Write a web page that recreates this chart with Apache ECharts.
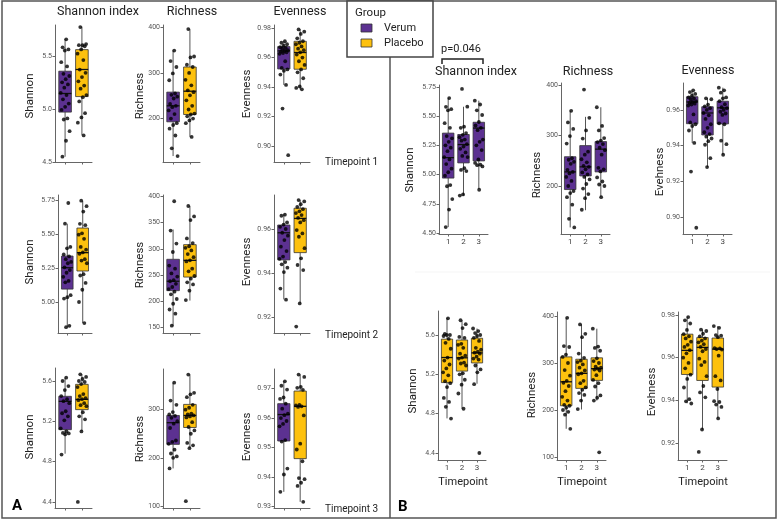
<!DOCTYPE html>
<html><head><meta charset="utf-8">
<script src="https://cdn.jsdelivr.net/npm/echarts@6/dist/echarts.min.js"></script>
<style>html,body{margin:0;padding:0;background:#fff}#c{width:779px;height:521px}</style>
</head><body><div id="c"></div>
<script>
// ---------- DATA ----------
const timepointLabels = ['1', '2', '3'];
const groupNames = ['Verum', 'Placebo'];
const metricTitles = ['Shannon index', 'Richness', 'Evenness'];

// box stats per timepoint: [whisker low, Q1, median, Q3, whisker high]
const shannonVerumBox   = [[4.55, 4.97, 5.145, 5.355, 5.655], [4.82, 5.10, 5.257, 5.343, 5.581], [4.879, 5.117, 5.398, 5.448, 5.633]];
const shannonPlaceboBox = [[4.752, 5.116, 5.371, 5.558, 5.774], [4.85, 5.233, 5.368, 5.549, 5.748], [5.104, 5.316, 5.418, 5.567, 5.666]];
const richnessVerumBox   = [[118, 193, 228, 258, 349], [152, 220, 238, 280, 337], [178, 228, 273, 288, 356]];
const richnessPlaceboBox = [[160, 209, 260, 313, 396], [201, 246, 278, 308, 382], [220, 263, 288, 311, 373]];
const evennessVerumBox   = [[0.9415, 0.9523, 0.9645, 0.9674, 0.9708], [0.9281, 0.946, 0.9583, 0.9618, 0.9666], [0.9349, 0.9522, 0.9612, 0.9649, 0.9725]];
const evennessPlaceboBox = [[0.9386, 0.9521, 0.9634, 0.9710, 0.9792], [0.9263, 0.9493, 0.9648, 0.9694, 0.9731], [0.9315, 0.9462, 0.964, 0.9692, 0.9748]];

// individual sample values per timepoint
const shannonVerumPts = [
  [5.655, 5.58, 5.56, 5.55, 5.44, 5.40, 5.33, 5.31, 5.28, 5.25, 5.23, 5.20, 5.15, 5.13, 5.09, 5.05, 5.02, 4.99, 4.91, 4.90, 4.79, 4.70, 4.55],
  [5.733, 5.581, 5.41, 5.40, 5.355, 5.34, 5.32, 5.30, 5.29, 5.26, 5.24, 5.22, 5.19, 5.16, 5.15, 5.055, 5.04, 5.03, 4.83, 4.82],
  [5.633, 5.60, 5.55, 5.51, 5.45, 5.42, 5.40, 5.38, 5.30, 5.28, 5.25, 5.21, 5.13, 5.10, 5.085, 5.08, 5.07, 4.87]
];
const shannonPlaceboPts = [
  [5.77, 5.61, 5.60, 5.60, 5.59, 5.56, 5.52, 5.46, 5.37, 5.34, 5.30, 5.26, 5.22, 5.19, 5.13, 5.11, 5.07, 4.96, 4.92, 4.87, 4.75],
  [5.75, 5.71, 5.67, 5.58, 5.57, 5.51, 5.50, 5.47, 5.41, 5.39, 5.37, 5.36, 5.32, 5.31, 5.29, 5.21, 5.20, 5.145, 5.095, 5.005, 4.85],
  [5.666, 5.64, 5.62, 5.60, 5.59, 5.57, 5.54, 5.47, 5.45, 5.43, 5.42, 5.41, 5.38, 5.36, 5.35, 5.29, 5.25, 5.22, 5.10, 4.40]
];
const richnessVerumPts = [
  [349, 326, 313, 299, 284, 255, 252, 248, 244, 232, 228, 225, 218, 210, 200, 190, 186, 178, 163, 135, 118],
  [391, 335, 310, 294, 268, 262, 253, 247, 240, 238, 233, 227, 223, 218, 213, 204, 195, 184, 176, 153],
  [356, 319, 310, 295, 290, 287, 283, 276, 271, 262, 236, 233, 229, 217, 209, 203, 200, 178]
];
const richnessPlaceboPts = [
  [396, 336, 334, 318, 313, 300, 285, 273, 262, 258, 251, 240, 228, 220, 211, 209, 205, 200, 196, 190, 160],
  [382, 362, 355, 320, 311, 305, 302, 297, 290, 284, 278, 276, 262, 257, 248, 243, 236, 232, 220, 202],
  [373, 335, 332, 326, 310, 304, 300, 292, 290, 288, 286, 284, 274, 264, 257, 250, 231, 226, 220, 110]
];
const evennessVerumPts = [
  [0.9710, 0.9700, 0.9690, 0.9680, 0.9670, 0.9665, 0.9660, 0.9650, 0.9645, 0.9640, 0.9635, 0.9630, 0.9625, 0.9575, 0.9530, 0.9520, 0.9510, 0.9485, 0.9415, 0.9255, 0.8940],
  [0.9665, 0.9660, 0.9630, 0.9620, 0.9610, 0.9600, 0.9583, 0.9570, 0.9550, 0.9520, 0.9500, 0.9475, 0.9465, 0.9450, 0.9440, 0.9425, 0.9405, 0.9330, 0.9280],
  [0.9725, 0.9710, 0.9697, 0.9670, 0.9665, 0.9649, 0.9632, 0.9615, 0.9610, 0.9600, 0.9590, 0.9580, 0.9572, 0.9525, 0.9520, 0.9428, 0.9408, 0.9349]
];
const evennessPlaceboPts = [
  [0.9790, 0.9775, 0.9760, 0.9730, 0.9710, 0.9700, 0.9690, 0.9675, 0.9660, 0.9650, 0.9635, 0.9620, 0.9600, 0.9575, 0.9550, 0.9520, 0.9500, 0.9460, 0.9405, 0.9395, 0.9385],
  [0.9731, 0.9725, 0.9712, 0.9700, 0.9690, 0.9680, 0.9672, 0.9663, 0.9650, 0.9640, 0.9630, 0.9595, 0.9580, 0.9565, 0.9513, 0.9467, 0.9437, 0.9414, 0.9263, 0.9158],
  [0.9748, 0.9740, 0.9706, 0.9703, 0.9696, 0.9645, 0.9643, 0.9640, 0.9638, 0.9609, 0.9513, 0.9493, 0.9453, 0.9396, 0.9392, 0.9380, 0.9369, 0.9315]
];

// tick values
const ticksShannonHalf = [4.5, 5.0, 5.5];
const ticksShannonQuarterA = [5.00, 5.25, 5.50, 5.75];
const ticksShannonQuarterB = [4.50, 4.75, 5.00, 5.25, 5.50, 5.75];
const ticksShannonPoint4 = [4.4, 4.8, 5.2, 5.6];
const ticksRich100 = [200, 300, 400];
const ticksRich100Full = [100, 200, 300, 400];
const ticksRich100Low = [100, 200, 300];
const ticksRich50 = [150, 200, 250, 300, 350, 400];
const ticksEven02A = [0.90, 0.92, 0.94, 0.96, 0.98];
const ticksEven02B = [0.92, 0.94, 0.96];
const ticksEven01 = [0.93, 0.94, 0.95, 0.96, 0.97];
const ticksEven02C = [0.90, 0.92, 0.94, 0.96];
const ticksEven02D = [0.92, 0.94, 0.96, 0.98];

// ---------- STYLE ----------
const PURPLE = '#5c3191';
const GOLD = '#fdc10e';
const FONT = 'Roboto, "Noto Sans", "DejaVu Sans", sans-serif';
const BOX_W = 0.75;

function jit(k, s) {
  const f = ((k + 1 + s * 3) * 0.6180339887) % 1;
  return (f - 0.5) * 0.56;
}

function renderBox(params, api) {
  const x = api.value(0);
  const lo = api.coord([x, api.value(1)]);
  const q1 = api.coord([x, api.value(2)]);
  const md = api.coord([x, api.value(3)]);
  const q3 = api.coord([x, api.value(4)]);
  const hi = api.coord([x, api.value(5)]);
  const w = api.size([BOX_W, 0])[0];
  const col = api.visual('color');
  return {
    type: 'group',
    children: [
      { type: 'line', shape: { x1: lo[0], y1: lo[1], x2: q1[0], y2: q1[1] }, style: { stroke: '#555', lineWidth: 1 } },
      { type: 'line', shape: { x1: q3[0], y1: q3[1], x2: hi[0], y2: hi[1] }, style: { stroke: '#555', lineWidth: 1 } },
      { type: 'rect', shape: { x: q3[0] - w / 2, y: q3[1], width: w, height: q1[1] - q3[1] }, style: { fill: col, stroke: '#333', lineWidth: 0.8 } },
      { type: 'line', shape: { x1: md[0] - w / 2, y1: md[1], x2: md[0] + w / 2, y2: md[1] }, style: { stroke: '#111', lineWidth: 1.3 } }
    ]
  };
}

const grid = [], xAxis = [], yAxis = [], series = [];

function addPanel(p) {
  const gi = grid.length;
  const idx = [];
  for (let i = 0; i < p.cats; i++) idx.push(i);
  grid.push({ left: p.left, top: p.top, width: p.width, height: p.height });
  xAxis.push({
    gridIndex: gi, type: 'value', min: -0.6, max: p.cats - 1 + 0.6,
    axisLine: { show: true, onZero: false, lineStyle: { color: '#666', width: 1 } },
    axisTick: { show: true, customValues: idx, length: 2.5, lineStyle: { color: '#666' } },
    axisLabel: { show: !!p.xLabels, customValues: idx, formatter: v => p.xLabels ? p.xLabels[Math.round(v)] : '', fontSize: 8, color: '#444', margin: 4, fontFamily: FONT },
    splitLine: { show: false }
  });
  yAxis.push({
    gridIndex: gi, type: 'value', min: p.min, max: p.max,
    axisLine: { show: true, onZero: false, lineStyle: { color: '#666', width: 1 } },
    axisTick: { show: true, customValues: p.ticks, length: 2.5, lineStyle: { color: '#666' } },
    axisLabel: { customValues: p.ticks, formatter: v => Number(v).toFixed(p.dec), fontSize: 7, color: '#555', margin: 3, fontFamily: FONT },
    splitLine: { show: false }
  });
  p.items.forEach((it, n) => {
    series.push({
      type: 'custom', xAxisIndex: gi, yAxisIndex: gi, renderItem: renderBox, silent: true, z: 2,
      itemStyle: { color: it.color }, encode: { x: 0, y: [1, 2, 3, 4, 5] },
      data: [[it.x].concat(it.box)]
    });
    series.push({
      type: 'scatter', xAxisIndex: gi, yAxisIndex: gi, silent: true, z: 3, symbolSize: 3.8,
      itemStyle: { color: '#000' },
      data: it.pts.map((v, k) => [it.x + jit(k, n + it.x), v])
    });
  });
}

// ---------- PANEL A ----------
const boxes = [
  [shannonVerumBox, shannonPlaceboBox, shannonVerumPts, shannonPlaceboPts],
  [richnessVerumBox, richnessPlaceboBox, richnessVerumPts, richnessPlaceboPts],
  [evennessVerumBox, evennessPlaceboBox, evennessVerumPts, evennessPlaceboPts]
];
const layoutA = [
  // timepoint 1
  [{ left: 55, top: 25, width: 37, height: 137, min: 4.5, max: 5.79, ticks: ticksShannonHalf, dec: 1 },
   { left: 163, top: 25, width: 37, height: 137, min: 105, max: 405, ticks: ticksRich100, dec: 0 },
   { left: 274, top: 25, width: 36, height: 137, min: 0.8894, max: 0.982, ticks: ticksEven02A, dec: 2 }],
  // timepoint 2
  [{ left: 58, top: 195, width: 34, height: 138, min: 4.777, max: 5.792, ticks: ticksShannonQuarterA, dec: 2 },
   { left: 163, top: 195, width: 37, height: 138, min: 139, max: 403, ticks: ticksRich50, dec: 0 },
   { left: 274, top: 195, width: 36, height: 138, min: 0.9129, max: 0.9754, ticks: ticksEven02B, dec: 2 }],
  // timepoint 3
  [{ left: 55, top: 368, width: 37, height: 140, min: 4.34, max: 5.729, ticks: ticksShannonPoint4, dec: 1 },
   { left: 163, top: 369, width: 37, height: 139, min: 95.8, max: 384.5, ticks: ticksRich100Low, dec: 0 },
   { left: 274, top: 369, width: 36, height: 139, min: 0.9294, max: 0.9767, ticks: ticksEven01, dec: 2 }]
];
layoutA.forEach((row, t) => {
  row.forEach((L, m) => {
    const b = boxes[m];
    addPanel(Object.assign({}, L, {
      cats: 2,
      items: [
        { x: 0, color: PURPLE, box: b[0][t], pts: b[2][t] },
        { x: 1, color: GOLD, box: b[1][t], pts: b[3][t] }
      ]
    }));
  });
});

// ---------- PANEL B ----------
const layoutB = [
  // Verum
  [{ left: 439, top: 85, width: 49, height: 149, min: 4.491, max: 5.767, ticks: ticksShannonQuarterB, dec: 2 },
   { left: 561, top: 83, width: 49, height: 151, min: 105, max: 404, ticks: ticksRich100, dec: 0 },
   { left: 683, top: 83, width: 49, height: 151, min: 0.8905, max: 0.9751, ticks: ticksEven02C, dec: 2 }],
  // Placebo
  [{ left: 438, top: 311, width: 48, height: 149, min: 4.329, max: 5.844, ticks: ticksShannonPoint4, dec: 1 },
   { left: 557, top: 312, width: 49, height: 148, min: 93.6, max: 408.5, ticks: ticksRich100Full, dec: 0 },
   { left: 678, top: 312, width: 49, height: 148, min: 0.912, max: 0.9814, ticks: ticksEven02D, dec: 2 }]
];
layoutB.forEach((row, g) => {
  row.forEach((L, m) => {
    const b = boxes[m];
    const items = [0, 1, 2].map(t => ({ x: t, color: g === 0 ? PURPLE : GOLD, box: b[g][t], pts: b[2 + g][t] }));
    addPanel(Object.assign({}, L, { cats: 3, xLabels: timepointLabels, items }));
  });
});

// ---------- TEXT / DECORATION ----------
function txt(text, x, y, size, opts) {
  opts = opts || {};
  return {
    type: 'text', x: x, y: y, rotation: opts.rot || 0, z: 10, silent: true,
    style: {
      text: text, x: 0, y: 0, fill: opts.color || '#222', fontSize: size, fontFamily: FONT,
      fontWeight: opts.bold ? 'bold' : 'normal', textAlign: opts.align || 'center', textVerticalAlign: 'middle'
    }
  };
}
const R = Math.PI / 2;
const graphic = [
  { type: 'rect', shape: { x: 2, y: 1, width: 774, height: 517 }, style: { fill: null, stroke: '#555', lineWidth: 1.5 }, silent: true, z: 1 },
  { type: 'line', shape: { x1: 390, y1: 57, x2: 390, y2: 518 }, style: { stroke: '#555', lineWidth: 1.5 }, silent: true, z: 1 },
  { type: 'line', shape: { x1: 415, y1: 272, x2: 770, y2: 272 }, style: { stroke: '#f5f5f5', lineWidth: 1 }, silent: true, z: 1 },
  // legend
  { type: 'rect', shape: { x: 347, y: 1, width: 86, height: 56 }, style: { fill: '#fff', stroke: '#444', lineWidth: 1.5 }, silent: true, z: 5 },
  { type: 'rect', shape: { x: 361, y: 24, width: 11, height: 8 }, style: { fill: PURPLE, stroke: '#333', lineWidth: 0.8 }, silent: true, z: 6 },
  { type: 'rect', shape: { x: 361, y: 39, width: 11, height: 8 }, style: { fill: GOLD, stroke: '#333', lineWidth: 0.8 }, silent: true, z: 6 },
  txt('Group', 355, 13, 11.5, { align: 'left' }),
  txt(groupNames[0], 384, 28, 11, { align: 'left' }),
  txt(groupNames[1], 384, 43, 11, { align: 'left' }),
  // panel A titles
  txt(metricTitles[0], 98, 12, 12.5), txt(metricTitles[1], 192, 12, 12.5), txt(metricTitles[2], 300, 12, 12.5),
  // panel A y labels
  txt('Shannon', 30, 96, 11.5, { rot: R }), txt('Richness', 140, 96, 11.5, { rot: R }), txt('Evenness', 247, 94, 11.5, { rot: R }),
  txt('Shannon', 30, 262, 11.5, { rot: R }), txt('Richness', 140, 265, 11.5, { rot: R }), txt('Evenness', 247, 262, 11.5, { rot: R }),
  txt('Shannon', 30, 437, 11.5, { rot: R }), txt('Richness', 140, 439, 11.5, { rot: R }), txt('Evenness', 247, 437, 11.5, { rot: R }),
  txt('Timepoint 1', 325, 162, 10, { align: 'left' }),
  txt('Timepoint 2', 325, 335, 10, { align: 'left' }),
  txt('Timepoint 3', 325, 509, 10, { align: 'left' }),
  txt('A', 12, 506, 15, { align: 'left', bold: true, color: '#000' }),
  // panel B
  txt('p=0.046', 461, 49, 11),
  { type: 'polyline', shape: { points: [[442, 64], [442, 59], [483, 59], [483, 64]] }, style: { stroke: '#222', lineWidth: 1.5, fill: null }, silent: true, z: 6 },
  txt(metricTitles[0], 476, 72, 12.5), txt(metricTitles[1], 588, 72, 12.5), txt(metricTitles[2], 708, 71, 12.5),
  txt('Shannon', 410, 170, 11.5, { rot: R }), txt('Richness', 537, 175, 11.5, { rot: R }), txt('Evehness', 660, 172, 11.5, { rot: R }),
  txt('Shannon', 413, 391, 11.5, { rot: R }), txt('Richness', 532, 395, 11.5, { rot: R }), txt('Evehness', 652, 392, 11.5, { rot: R }),
  txt('Timepoint', 463, 482, 11), txt('Timepoint', 582, 482, 11), txt('Timepoint', 703, 482, 11),
  txt('B', 398, 507, 15, { align: 'left', bold: true, color: '#000' })
];

const chart = echarts.init(document.getElementById('c'), null, { renderer: 'canvas' });
chart.setOption({
  animation: false,
  backgroundColor: '#fff',
  textStyle: { fontFamily: FONT },
  grid, xAxis, yAxis, series, graphic
});
</script>
</body></html>
